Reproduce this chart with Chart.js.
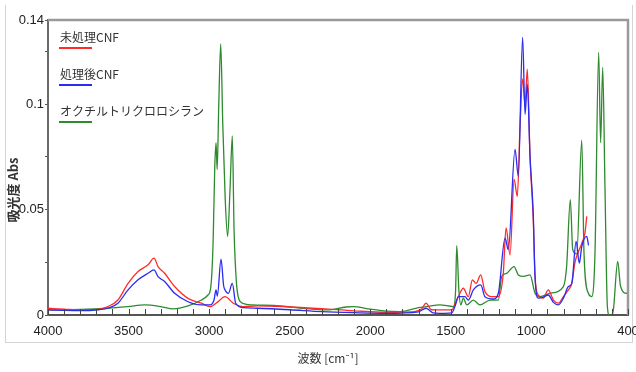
<!DOCTYPE html>
<html>
<head>
<meta charset="utf-8">
<script src="https://cdn.jsdelivr.net/npm/chart.js@4/dist/chart.umd.min.js"></script>
<style>
  html, body { margin: 0; padding: 0; background: #fff; }
  #wrap { position: relative; width: 636px; height: 372px; }
  #frame { position: absolute; left: 5px; top: 5px; width: 626px; height: 337px;
           border-left: 1px solid #d4d4d4; border-right: 1px solid #d4d4d4; border-bottom: 1px solid #d4d4d4; }
  canvas { position: absolute; left: 0; top: 0; }
</style>
</head>
<body>
<div id="wrap">
  <div id="frame"></div>
  <canvas id="chart" width="636" height="372"></canvas>
</div>
<script>
// wavenumber [cm-1] / absorbance pairs
const untreatedWave = [4000, 3900, 3793, 3690, 3628, 3566, 3503, 3441, 3379, 3342, 3317, 3276, 3214, 3131, 3048, 2994, 2950, 2901, 2850, 2788, 2700, 2500, 2300, 2100, 1900, 1750, 1680, 1654, 1620, 1567, 1494, 1470, 1453, 1422, 1391, 1366, 1343, 1314, 1288, 1236, 1205, 1174, 1157, 1132, 1107, 1087, 1070, 1054, 1039, 1025, 1008, 988, 977, 957, 926, 895, 863, 832, 801, 770, 749, 729, 708, 687, 667, 656];
const untreatedAbs = [0.0032, 0.0028, 0.0024, 0.0027, 0.004, 0.0071, 0.015, 0.0206, 0.0238, 0.027, 0.023, 0.0198, 0.0135, 0.0079, 0.0056, 0.004, 0.006, 0.0087, 0.0056, 0.004, 0.0043, 0.0038, 0.003, 0.002, 0.0013, 0.0015, 0.003, 0.0056, 0.0025, 0.0024, 0.0024, 0.006, 0.0087, 0.0127, 0.0087, 0.0167, 0.015, 0.019, 0.0111, 0.0087, 0.0087, 0.0198, 0.0413, 0.0286, 0.0643, 0.0563, 0.09, 0.112, 0.1, 0.1167, 0.075, 0.045, 0.0183, 0.0095, 0.008, 0.0119, 0.0071, 0.0056, 0.0087, 0.0119, 0.015, 0.025, 0.03, 0.034, 0.039, 0.0468];

const treatedWave = [4000, 3900, 3793, 3690, 3628, 3566, 3503, 3441, 3379, 3342, 3317, 3276, 3214, 3131, 3048, 2994, 2970, 2957, 2949, 2926, 2910, 2901, 2880, 2856, 2835, 2788, 2700, 2500, 2300, 2100, 1900, 1700, 1654, 1610, 1567, 1494, 1470, 1453, 1412, 1391, 1360, 1314, 1288, 1236, 1205, 1163, 1143, 1101, 1081, 1054, 1039, 1025, 1008, 988, 977, 957, 926, 895, 863, 832, 801, 770, 749, 722, 702, 687, 656, 645];
const treatedAbs = [0.0024, 0.0022, 0.0021, 0.0025, 0.0032, 0.0056, 0.0119, 0.0167, 0.0198, 0.0214, 0.0182, 0.0159, 0.0103, 0.0063, 0.0048, 0.0048, 0.007, 0.0119, 0.009, 0.0265, 0.014, 0.0119, 0.0103, 0.015, 0.0056, 0.0035, 0.0032, 0.0025, 0.0016, 0.0011, 0.0008, 0.0015, 0.0032, 0.001, 0.0008, 0.001, 0.005, 0.0087, 0.0087, 0.0071, 0.0119, 0.0143, 0.0087, 0.0076, 0.0103, 0.0365, 0.031, 0.0786, 0.0659, 0.1317, 0.0952, 0.1095, 0.075, 0.048, 0.018, 0.008, 0.0085, 0.0095, 0.006, 0.0048, 0.008, 0.0135, 0.015, 0.0349, 0.0246, 0.0325, 0.0373, 0.033];

const silaneWave = [4000, 3800, 3628, 3503, 3400, 3300, 3224, 3131, 3048, 3007, 2990, 2975, 2965, 2957, 2950, 2940, 2928, 2915, 2900, 2885, 2870, 2856, 2845, 2830, 2815, 2790, 2728, 2600, 2400, 2268, 2150, 2107, 2000, 1900, 1815, 1700, 1650, 1567, 1484, 1470, 1463, 1450, 1438, 1422, 1401, 1360, 1319, 1256, 1205, 1184, 1153, 1107, 1081, 1050, 1008, 977, 946, 884, 801, 781, 758, 743, 718, 687, 673, 646, 625, 605, 582, 570, 557, 543, 528, 512, 491, 464, 446, 408, 400];
const silaneAbs = [0.0024, 0.0026, 0.0032, 0.004, 0.0048, 0.004, 0.0029, 0.0043, 0.0071, 0.0095, 0.013, 0.035, 0.07, 0.0818, 0.069, 0.1, 0.1286, 0.09, 0.055, 0.0373, 0.06, 0.085, 0.04, 0.015, 0.0075, 0.0055, 0.0048, 0.0045, 0.003, 0.0024, 0.0038, 0.004, 0.0028, 0.0018, 0.0016, 0.0035, 0.004, 0.0048, 0.004, 0.012, 0.0329, 0.012, 0.0048, 0.008, 0.0048, 0.0071, 0.0048, 0.0071, 0.0071, 0.0183, 0.0198, 0.023, 0.019, 0.0183, 0.019, 0.0103, 0.0087, 0.0103, 0.0135, 0.023, 0.0548, 0.031, 0.029, 0.083, 0.029, 0.0103, 0.0087, 0.029, 0.1246, 0.0818, 0.1175, 0.061, 0.004, -0.001, 0.0024, 0.0254, 0.0135, 0.0103, 0.011];

const seriesNames = ['未処理CNF', '処理後CNF', 'オクチルトリクロロシラン'];
const seriesColors = ['#ff2b2b', '#2b2bf2', '#2f8a2f'];

const yTickValues = [0, 0.025, 0.05, 0.075, 0.1, 0.125, 0.14];
const yTickLabels = { 0: '0', 0.05: '0.05', 0.1: '0.1', 0.14: '0.14' };
const xTickLabels = [4000, 3500, 3000, 2500, 2000, 1500, 1000, 400];

const tickFont = { family: "'Liberation Sans Narrow', 'Liberation Sans', Arial, sans-serif", size: 13 };
const jpFont = "'Noto Sans CJK JP', 'Noto Sans', sans-serif";

function pairs(xs, ys) {
    return xs.map((x, i) => ({ x: x, y: ys[i] }));
}

// legend: name above a short coloured line, top-left inside the plot
const legendPlugin = {
    id: 'spectraLegend',
    afterDraw(chart) {
        const ctx = chart.ctx;
        const left = chart.chartArea.left + 12;
        ctx.save();
        chart.data.datasets.forEach((ds, i) => {
            const top = 37 + i * 37;
            ctx.font = '12px ' + jpFont;
            ctx.fillStyle = '#333';
            ctx.textBaseline = 'middle';
            ctx.textAlign = 'left';
            ctx.fillText(ds.label, left, top);
            ctx.strokeStyle = ds.borderColor;
            ctx.lineWidth = 2;
            ctx.beginPath();
            ctx.moveTo(left - 1, top + 11);
            ctx.lineTo(left + 32, top + 11);
            ctx.stroke();
        });
        ctx.restore();
    }
};

// frame, inward x ticks and axis titles
const framePlugin = {
    id: 'frame',
    afterDraw(chart) {
        const ctx = chart.ctx;
        const a = chart.chartArea;
        const xs = chart.scales.x;
        ctx.save();
        ctx.strokeStyle = '#9a9a9a';
        ctx.lineWidth = 2.5;
        ctx.beginPath();
        ctx.moveTo(a.left, a.top);
        ctx.lineTo(a.right, a.top);
        ctx.lineTo(a.right, a.bottom);
        ctx.stroke();

        ctx.strokeStyle = '#444';
        ctx.lineWidth = 1;
        xs.ticks.forEach(t => {
            const px = Math.round(xs.getPixelForValue(t.value)) + 0.5;
            ctx.beginPath();
            ctx.moveTo(px, a.bottom);
            ctx.lineTo(px, a.bottom - 6);
            ctx.stroke();
        });

        ctx.fillStyle = '#333';
        ctx.textAlign = 'center';
        ctx.textBaseline = 'middle';
        ctx.font = '12px ' + jpFont;
        ctx.fillText('波数 [cm⁻¹]', 328, 358);

        ctx.translate(13, 190);
        ctx.rotate(-Math.PI / 2);
        ctx.font = 'bold 13px ' + jpFont;
        ctx.fillText('吸光度 Abs', 0, 0);
        ctx.restore();
    }
};

const ctx = document.getElementById('chart').getContext('2d');
new Chart(ctx, {
    type: 'line',
    data: {
        datasets: [
            { label: seriesNames[0], data: pairs(untreatedWave, untreatedAbs), borderColor: seriesColors[0], order: 1 },
            { label: seriesNames[1], data: pairs(treatedWave, treatedAbs), borderColor: seriesColors[1], order: 0 },
            { label: seriesNames[2], data: pairs(silaneWave, silaneAbs), borderColor: seriesColors[2], order: 2 }
        ]
    },
    options: {
        responsive: false,
        animation: false,
        layout: { padding: { top: 20, right: 8, left: 0, bottom: 0 } },
        elements: {
            line: { borderWidth: 1.3, cubicInterpolationMode: 'monotone', fill: false },
            point: { radius: 0 }
        },
        plugins: { legend: { display: false }, tooltip: { enabled: false } },
        scales: {
            x: {
                type: 'linear',
                reverse: true,
                min: 400,
                max: 4000,
                afterBuildTicks(scale) {
                    const ticks = [];
                    for (let v = 400; v <= 4000; v += 100) ticks.push({ value: v });
                    scale.ticks = ticks;
                },
                afterFit(scale) {
                    scale.height = 57;
                    scale.paddingLeft = 0;
                    scale.paddingRight = 0;
                },
                grid: { display: false, drawTicks: false },
                border: { display: true, color: '#555', width: 2 },
                ticks: {
                    autoSkip: false,
                    maxRotation: 0,
                    padding: 9,
                    color: '#222',
                    font: tickFont,
                    callback: v => xTickLabels.includes(v) ? String(v) : ''
                }
            },
            y: {
                min: 0,
                max: 0.14,
                afterBuildTicks(scale) {
                    scale.ticks = yTickValues.map(v => ({ value: v }));
                },
                afterFit(scale) {
                    scale.width = 48;
                    scale.paddingTop = 0;
                    scale.paddingBottom = 0;
                },
                grid: { drawOnChartArea: false, drawTicks: true, tickLength: 3, color: '#555' },
                border: { display: true, color: '#6a6a6a', width: 2 },
                ticks: {
                    autoSkip: false,
                    padding: 1,
                    color: '#222',
                    font: tickFont,
                    callback: v => yTickLabels[v] !== undefined ? yTickLabels[v] : ''
                }
            }
        }
    },
    plugins: [legendPlugin, framePlugin]
});
</script>
</body>
</html>
